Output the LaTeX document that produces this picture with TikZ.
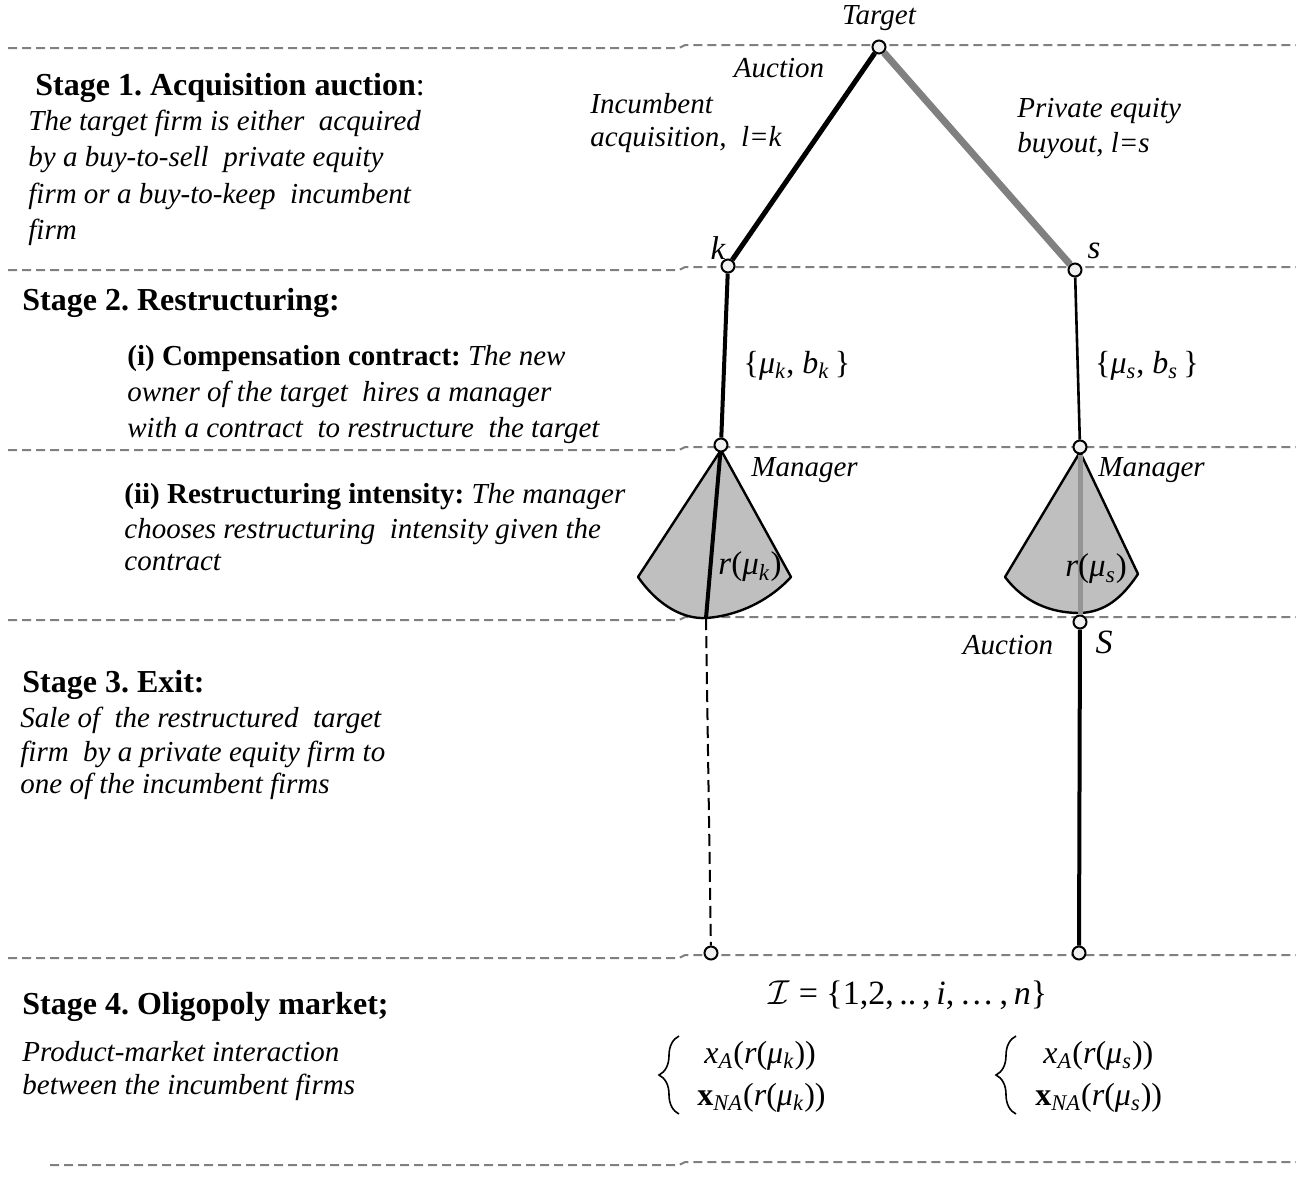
\documentclass[tikz,border=0pt]{standalone}
\usepackage{fontspec}
\setmainfont{Liberation Serif}
\usetikzlibrary{decorations.pathreplacing}
\newcommand{\mysub}[1]{\textsubscript{\textit{#1}}}
\frenchspacing
\begin{document}
\begin{tikzpicture}[x=0.5pt,y=-0.5pt,
  sep/.style={draw=gray, line width=1pt, dash pattern=on 4.5pt off 2.5pt},
  dot/.style={circle, draw=black, line width=1pt, fill=gray!12, inner sep=0pt, minimum size=6.5pt},
  fan/.style={draw=black, line width=1.2pt, fill=gray!50!white, line join=round},
  lbl/.style={inner sep=0pt, font=\fontsize{14.5}{16}\selectfont\itshape},
  mth/.style={inner sep=0pt, font=\fontsize{16}{18}\selectfont},
  txt/.style={anchor=base west, inner sep=0pt, font=\fontsize{14.5}{17}\selectfont\itshape},
  hd/.style={anchor=base west, inner sep=0pt, font=\fontsize{16}{18}\selectfont\bfseries},
  brc/.style={decorate, decoration={brace, amplitude=10pt}, line width=0.8pt}]
\useasboundingbox (0,0) rectangle (1296,1191);
% stage separators
\foreach \xs/\yl/\yr in {8/48/45, 8/270/267, 8/450/447, 8/620/617, 8/958/955, 50/1165/1162}
  \draw[sep] (\xs,\yl) -- (679,\yl) -- (685,\yr) -- (1296,\yr);
% fans
\draw[fan] (721,450) -- (638,577) .. controls (660,608) and (685,619) .. (706,618)
  .. controls (736,616) and (768,602) .. (791,577) -- cycle;
\draw[fan] (1080,452) -- (1005,577) .. controls (1024,602) and (1050,613) .. (1080,613)
  .. controls (1105,612) and (1122,598) .. (1138,574) -- cycle;
% nodes
\node[dot] (T) at (879,47) {};
\node[dot] (K) at (728,266) {};
\node[dot] (S) at (1075,270) {};
\node[dot] (MK) at (721,445) {};
\node[dot] (MS) at (1080,447) {};
\node[dot] (AS) at (1080,622) {};
\node[dot] (EK) at (711,953) {};
\node[dot] (ES) at (1079,953) {};
\coordinate (FK) at (706,618);
% connectors
\draw[line width=2.5pt] (T) -- (K);
\draw[gray, line width=3.5pt] (T) -- (S);
\draw[line width=2pt] (K) -- (MK);
\draw[line width=1.3pt] (S) -- (MS);
\draw[line width=2pt] (MK) -- (FK);
\draw[black!42, line width=2.5pt] (MS) -- (AS);
\draw[line width=2pt] (AS) -- (ES);
\draw[line width=1pt, dash pattern=on 6pt off 3pt] (FK) -- (EK);
% tree labels
\node[lbl] (tTarget) at (879,18) {Target};
\node[lbl] (tAuc1) at (779,68) {Auction};
\node[lbl, anchor=base west] (tInc1) at (590,113) {Incumbent};
\node[lbl, anchor=base west] (tInc2) at (590,146) {acquisition,\ \ l=k};
\node[lbl, anchor=base west] (tPE1) at (1017,117) {Private equity};
\node[lbl, anchor=base west] (tPE2) at (1017,152) {buyout, l=s};
\node[lbl, font=\fontsize{16.5}{18}\selectfont\itshape] (tk) at (718,248) {k};
\node[lbl, font=\fontsize{16.5}{18}\selectfont\itshape] (ts) at (1094,251) {s};
\node[mth] (tmk) at (797,366) {\{\textit{μ}\mysub{k}, \textit{b}\mysub{k}\,\}};
\node[mth] (tms) at (1147,366) {\{\textit{μ}\mysub{s}, \textit{b}\mysub{s}\,\}};
\node[lbl, anchor=west] (tMan1) at (751,470) {Manager};
\node[lbl, anchor=west] (tMan2) at (1098,470) {Manager};
\node[mth, font=\fontsize{16.5}{18}\selectfont] (trk) at (750,567) {\textit{r}(\textit{μ}\mysub{k})};
\node[mth, font=\fontsize{16.5}{18}\selectfont] (trs) at (1096,569) {\textit{r}(\textit{μ}\mysub{s})};
\node[lbl] (tAuc2) at (1008,645) {Auction};
\node[lbl, font=\fontsize{17}{18}\selectfont\itshape] (tS) at (1104,642) {S};
\node[mth, font=\fontsize{17}{18}\selectfont] (tI) at (908,995) {$\mathcal{I}$ = \{1,2,\,..\,,\,\textit{i},\,\dots\,,\,\textit{n}\}};
% stage 4 outcomes
\draw[brc] (679,1114) -- (679,1036);
\draw[brc] (1016,1114) -- (1016,1036);
\node[mth, anchor=west] (xk1) at (704,1056) {\textit{x}\mysub{A}(\textit{r}(\textit{μ}\mysub{k}))};
\node[mth, anchor=west] (xk2) at (697,1098) {\textbf{x}\mysub{NA}(\textit{r}(\textit{μ}\mysub{k}))};
\node[mth, anchor=west] (xs1) at (1043,1056) {\textit{x}\mysub{A}(\textit{r}(\textit{μ}\mysub{s}))};
\node[mth, anchor=west] (xs2) at (1035,1098) {\textbf{x}\mysub{NA}(\textit{r}(\textit{μ}\mysub{s}))};
% left column
\node[hd] (h1) at (35,95) {Stage 1. Acquisition auction\mdseries:};
\node[txt] (h1a) at (28,130) {The target firm is either\ \ acquired};
\node[txt] (h1b) at (28,166) {by a buy-to-sell\ \ private equity};
\node[txt] (h1c) at (28,203) {firm or a buy-to-keep\ \ incumbent};
\node[txt] (h1d) at (28,239) {firm};
\node[hd] (h2) at (22,310) {Stage 2. Restructuring:};
\node[txt] (h2a) at (127,365) {\textbf{\upshape (i) Compensation contract:} The new};
\node[txt] (h2b) at (127,401) {owner of the target\ \ hires a manager};
\node[txt] (h2c) at (127,437) {with a contract\ \ to restructure\ \ the target};
\node[txt] (h2d) at (124,503) {\textbf{\upshape (ii) Restructuring intensity:} The manager};
\node[txt] (h2e) at (124,538) {chooses restructuring\ \ intensity given the};
\node[txt] (h2f) at (124,570) {contract};
\node[hd] (h3) at (22,692) {Stage 3. Exit:};
\node[txt] (h3a) at (20,727) {Sale of\ \ the restructured\ \ target};
\node[txt] (h3b) at (20,761) {firm\ \ by a private equity firm to};
\node[txt] (h3c) at (20,793) {one of the incumbent firms};
\node[hd] (h4) at (22,1014) {Stage 4. Oligopoly market;};
\node[txt] (h4a) at (22,1061) {Product-market interaction};
\node[txt] (h4b) at (22,1094) {between the incumbent firms};
\end{tikzpicture}
\end{document}
